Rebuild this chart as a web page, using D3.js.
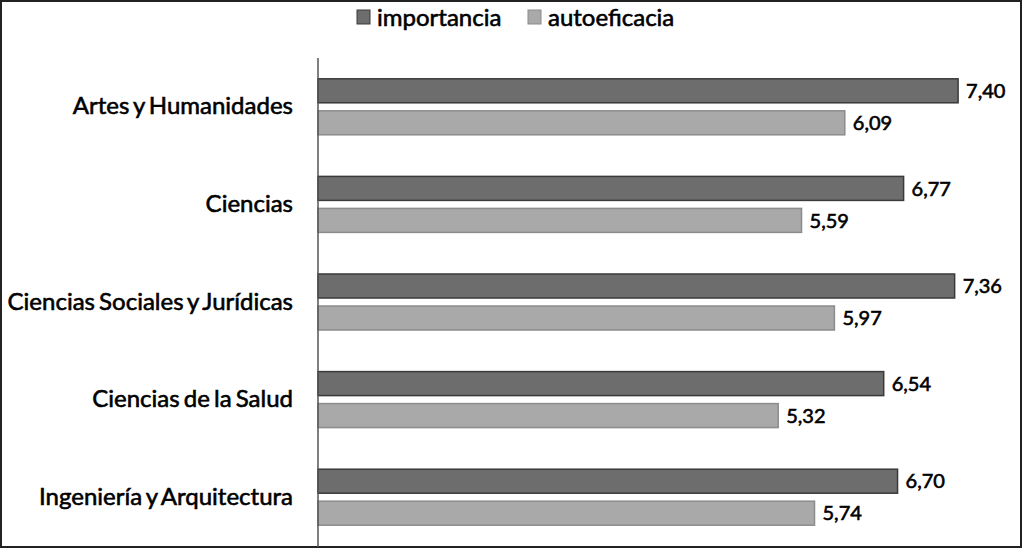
<!DOCTYPE html>
<html><head><meta charset="utf-8">
<script src="https://cdn.jsdelivr.net/npm/d3@7"></script>
<style>
html,body{margin:0;padding:0;background:#fff;}
svg{display:block;}
text{font-family:Lato,"Open Sans",sans-serif;fill:#000;}
</style></head>
<body>
<svg id="chart" width="1022" height="548"></svg>
<script>
const categories = ["Artes y Humanidades","Ciencias","Ciencias Sociales y Jurídicas","Ciencias de la Salud","Ingeniería y Arquitectura"];
const seriesNames = ["importancia","autoeficacia"];
const importancia = [7.40, 6.77, 7.36, 6.54, 6.70];
const autoeficacia = [6.09, 5.59, 5.97, 5.32, 5.74];
const seriesValues = [importancia, autoeficacia];

const W = 1022, H = 548;
const svg = d3.select("#chart");
const fills = ["#6d6d6d","#a9a9a9"];
const strokes = ["#3a3a3a","#8c8c8c"];

// outer frame
svg.append("rect").attr("x",1).attr("y",1).attr("width",W-2).attr("height",H-2)
  .attr("fill","#fff").attr("stroke","#222").attr("stroke-width",2);

const x = d3.scaleLinear().domain([0,8]).range([318,1010]);
const y = d3.scaleBand().domain(categories).range([58,546]);
const yi = d3.scaleBand().domain(seriesNames).range([0,y.bandwidth()]).paddingInner(0.25).paddingOuter(0.65);

const fmt = d3.formatLocale({decimal:",",thousands:".",grouping:[3],currency:["","€"]}).format(".2f");

const data = [];
categories.forEach((c,i)=>seriesNames.forEach((s,j)=>data.push({c,s,j,v:seriesValues[j][i]})));

const g = svg.append("g");
g.selectAll("rect.bar").data(data).join("rect").attr("class","bar")
  .attr("x",x(0)).attr("y",d=>y(d.c)+yi(d.s))
  .attr("width",d=>x(d.v)-x(0)).attr("height",yi.bandwidth())
  .attr("fill",d=>fills[d.j]).attr("stroke",d=>strokes[d.j]).attr("stroke-width",1.5);

g.selectAll("text.val").data(data).join("text").attr("class","val")
  .attr("x",d=>x(d.v)+8).attr("y",d=>y(d.c)+yi(d.s)+yi.bandwidth()/2)
  .attr("dy","0.36em").attr("font-size",20).attr("stroke","#000").attr("stroke-width",0.6)
  .text(d=>fmt(d.v));

// y axis
const yAxis = d3.axisLeft(y).tickSize(0).tickPadding(25);
const ay = svg.append("g").attr("transform",`translate(${x(0)},0)`).call(yAxis);
ay.select(".domain").attr("stroke","#555").attr("stroke-width",1.5).attr("d",`M0,58V547`);
ay.selectAll("text").attr("font-size",24).attr("word-spacing","-2px")
  .attr("stroke","#000").attr("stroke-width",0.6)
  .attr("font-family","Lato,'Open Sans',sans-serif").attr("fill","#000");

// legend
const legend = svg.append("g");
const lx = [357,528];
seriesNames.forEach((s,j)=>{
  legend.append("rect").attr("x",lx[j]).attr("y",10).attr("width",13).attr("height",14)
    .attr("fill",fills[j]).attr("stroke",strokes[j]).attr("stroke-width",1);
  legend.append("text").attr("x",lx[j]+20).attr("y",26).attr("font-size",24)
    .attr("stroke","#000").attr("stroke-width",0.6).text(s);
});
</script>
</body></html>
